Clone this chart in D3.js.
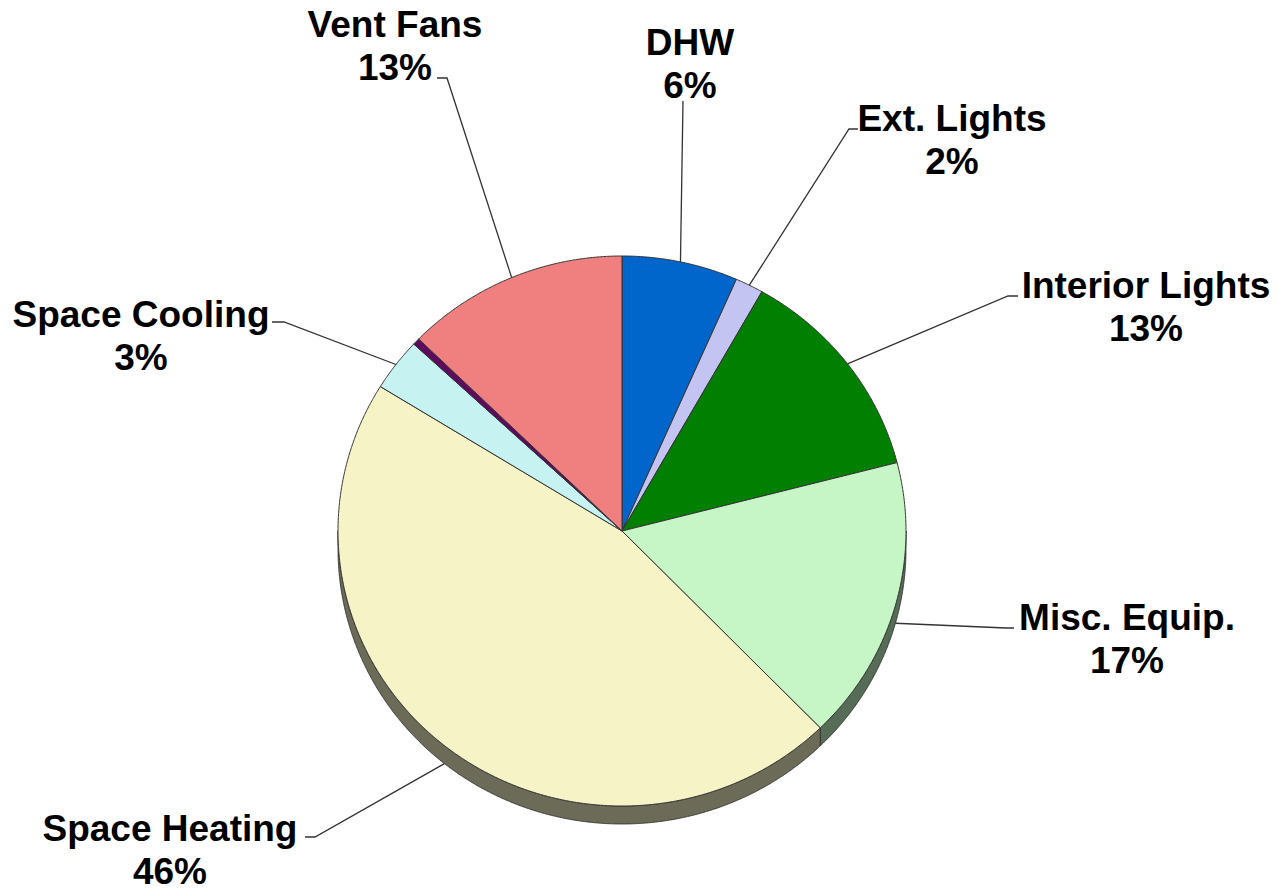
<!DOCTYPE html>
<html>
<head>
<meta charset="utf-8">
<script src="https://cdn.jsdelivr.net/npm/d3@7"></script>
<style>
  html, body { margin: 0; padding: 0; background: #ffffff; }
  svg { display: block; }
  text { font-family: "Liberation Sans", Arial, sans-serif; font-weight: bold; fill: #000; }
</style>
</head>
<body>
<svg id="chart" width="1278" height="892"></svg>
<script>
// ---- data ----
const categories = ["DHW", "Ext. Lights", "Interior Lights", "Misc. Equip.", "Space Heating", "Space Cooling", "Other", "Vent Fans"];
const values     = [6.6, 1.6, 12.8, 16.7, 46.1, 3.1, 0.4, 12.7];
const pctLabels  = ["6%", "2%", "13%", "17%", "46%", "3%", "", "13%"];
const colors     = ["#0066cc", "#c4c4f2", "#007f00", "#c6f5c6", "#f6f4c6", "#c6f2f2", "#5e0a5e", "#f08080"];

// ---- layout (label placement) ----
const labelLayout = {
  "DHW":             { x: 690,  y: 55,  ex: 683,  ey: 101, tick: 0 },
  "Ext. Lights":     { x: 952,  y: 131, ex: 858,  ey: 129, tick: -9 },
  "Interior Lights": { x: 1146, y: 298, ex: 1018, ey: 296, tick: -10 },
  "Misc. Equip.":    { x: 1127, y: 630, ex: 1014, ey: 628, tick: -8 },
  "Space Heating":   { x: 170,  y: 841, ex: 305,  ey: 837, tick: 10 },
  "Space Cooling":   { x: 141,  y: 327, ex: 272,  ey: 322, tick: 12 },
  "Vent Fans":       { x: 395,  y: 37,  ex: 437,  ey: 78,  tick: 10 }
};

const cx = 622, cy = 531, rx = 284, ry = 275, depth = 18;
const svg = d3.select("#chart");

const data = categories.map((c, i) => ({ name: c, value: values[i], pct: pctLabels[i], color: colors[i] }));
const pie = d3.pie().sort(null).value(d => d.value);
const arcs = pie(data);

function pt(a, dy) { return [cx + rx * Math.sin(a), cy - ry * Math.cos(a) + (dy || 0)]; }
function arcPts(a0, a1, dy) {
  const n = Math.max(2, Math.ceil((a1 - a0) / 0.005));
  return d3.range(n + 1).map(i => pt(a0 + (a1 - a0) * i / n, dy));
}
const line = d3.line();

// sides (3D depth) on the lower half
const sideG = svg.append("g");
arcs.forEach(a => {
  const s = Math.max(a.startAngle, Math.PI / 2), e = Math.min(a.endAngle, 3 * Math.PI / 2);
  if (s >= e) return;
  const pts = arcPts(s, e, 0).concat(arcPts(s, e, depth).reverse());
  sideG.append("path")
    .attr("d", line(pts) + "Z")
    .attr("fill", d3.color(a.data.color).darker(2.3))
    .attr("stroke", "#2a2a2a")
    .attr("stroke-width", 0.8)
    .attr("stroke-linejoin", "round");
});

// top faces
const topG = svg.append("g");
arcs.forEach(a => {
  const pts = [[cx, cy]].concat(arcPts(a.startAngle, a.endAngle, 0));
  topG.append("path")
    .attr("d", line(pts) + "Z")
    .attr("fill", a.data.color)
    .attr("stroke", "#333")
    .attr("stroke-width", 1)
    .attr("stroke-linejoin", "round");
});

// leader lines and labels
const labG = svg.append("g");
arcs.forEach(a => {
  const L = labelLayout[a.data.name];
  if (!L) return;
  const mid = (a.startAngle + a.endAngle) / 2;
  const lower = mid > Math.PI / 2 && mid < 3 * Math.PI / 2;
  const anchor = pt(mid, lower ? depth : 0);
  const pts = [[L.ex, L.ey]];
  if (L.tick) pts.push([L.ex + L.tick, L.ey]);
  pts.push(anchor);
  labG.append("path")
    .attr("d", line(pts))
    .attr("fill", "none")
    .attr("stroke", "#333")
    .attr("stroke-width", 1.3);
  const t = labG.append("text")
    .attr("text-anchor", "middle")
    .attr("font-size", 37);
  t.append("tspan").attr("x", L.x).attr("y", L.y).text(a.data.name);
  t.append("tspan").attr("x", L.x).attr("y", L.y + 43).text(a.data.pct);
});
</script>
</body>
</html>
